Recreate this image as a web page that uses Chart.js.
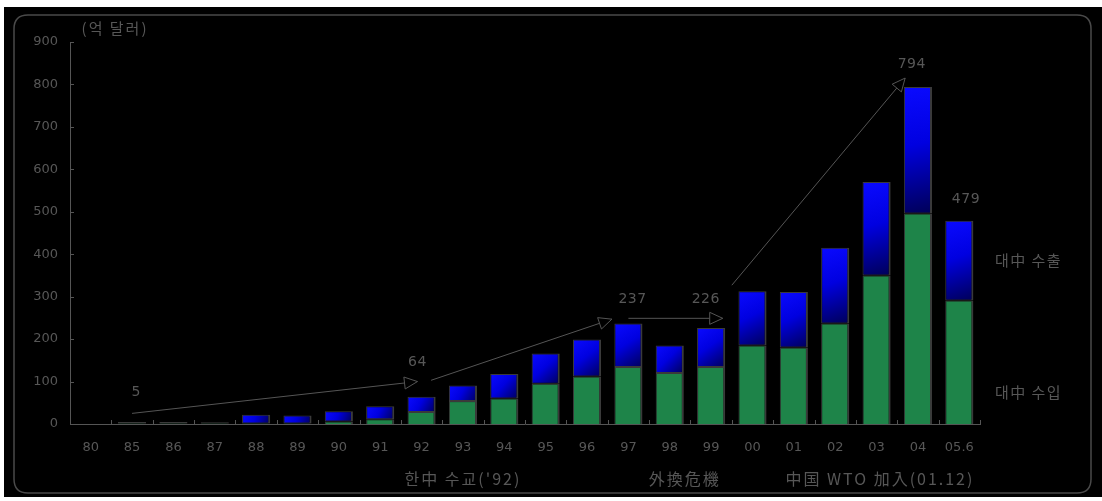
<!DOCTYPE html>
<html>
<head>
<meta charset="utf-8">
<script src="https://cdn.jsdelivr.net/npm/chart.js@4.4.1/dist/chart.umd.min.js"></script>
<style>
  html, body { margin: 0; padding: 0; background: #ffffff; }
  #wrap { width: 1102px; height: 501px; position: relative; }
</style>
</head>
<body>
<div id="wrap"><canvas id="c" width="1102" height="501"></canvas></div>
<script>
// ---- data ----
const categories = ['80','85','86','87','88','89','90','91','92','93','94','95','96','97','98','99','00','01','02','03','04','05.6'];
const lowerGreen = [0,1,1,1,1,1,6,11,28,54,60,95,112,134,120,134,185,180,237,350,496,291];
const upperBlue  = [0,4,4,3,21,19,24,31,36,37,58,71,87,103,65,92,128,131,178,220,298,188];
const yTicks = [0,100,200,300,400,500,600,700,800,900];
const unitLabel = '(억 달러)';
const totalLabels = [
  {text:'5',   idx:1.1,  val:74},
  {text:'64',  idx:7.9,  val:145},
  {text:'237', idx:13.1, val:294},
  {text:'226', idx:14.87,val:294},
  {text:'794', idx:19.85,val:848},
  {text:'479', idx:21.16,val:530}
];
const arrows = [
  {from:[1.0,25],   to:[7.9,100]},
  {from:[8.23,103], to:[12.6,247]},
  {from:[13.0,249], to:[15.28,249]},
  {from:[15.5,327], to:[19.69,815]}
];
const sideLabels = [
  {text:'대中 수출', idx:21.86, val:386},
  {text:'대中 수입', idx:21.86, val:74}
];
const eventLabels = [
  {text:"한中 수교('92)", idx:9.0,  val:-129},
  {text:'外換危機',        idx:14.36,val:-129},
  {text:'中国 WTO 加入(01.12)', idx:19.08, val:-129}
];

const TXT = '#575757';
const NUMFONT = '"DejaVu Sans", sans-serif';
const FONT = '"Noto Sans CJK KR", "DejaVu Sans", sans-serif';

function blueGradient(ctx) {
  const chart = ctx.chart;
  if (ctx.type !== 'data' || !chart.scales || !chart.scales.x || !chart.scales.y) return '#0000dd';
  const xs = chart.scales.x, ys = chart.scales.y;
  const i = ctx.dataIndex;
  const xc = xs.getPixelForValue(i);
  const w = 28;
  const yTop = ys.getPixelForValue(lowerGreen[i] + upperBlue[i]);
  const yBot = ys.getPixelForValue(lowerGreen[i]);
  if (![xc, yTop, yBot].every(Number.isFinite)) return '#0000dd';
  const g = chart.ctx.createLinearGradient(xc - w/2, yTop, xc + w/2, yBot + 1);
  g.addColorStop(0, '#0a0aff');
  g.addColorStop(0.45, '#0000e0');
  g.addColorStop(1, '#000055');
  return g;
}

function drawSpaced(c, text, x, y, align, spacing) {
  if ('letterSpacing' in c) {
    c.letterSpacing = spacing + 'px';
    const w = c.measureText(text).width;
    c.textAlign = 'left';
    let sx = x;
    if (align === 'center') sx = x - w / 2;
    c.fillText(text, sx, y);
    c.letterSpacing = '0px';
  } else {
    c.textAlign = align;
    c.fillText(text, x, y);
  }
}

const decor = {
  id: 'decor',
  beforeDraw(chart) {
    const c = chart.ctx;
    c.save();
    c.fillStyle = '#ffffff';
    c.fillRect(0, 0, chart.width, chart.height);
    c.fillStyle = '#000000';
    c.fillRect(4, 7, chart.width - 4, 490);
    c.strokeStyle = '#4a4a4a';
    c.lineWidth = 1.5;
    const x0 = 14, y0 = 15, x1 = 1091, y1 = 493, r = 14;
    c.beginPath();
    c.moveTo(x0 + r, y0);
    c.lineTo(x1 - r, y0);
    c.quadraticCurveTo(x1, y0, x1, y0 + r);
    c.lineTo(x1, y1 - r);
    c.quadraticCurveTo(x1, y1, x1 - r, y1);
    c.lineTo(x0 + r, y1);
    c.quadraticCurveTo(x0, y1, x0, y1 - r);
    c.lineTo(x0, y0 + r);
    c.quadraticCurveTo(x0, y0, x0 + r, y0);
    c.stroke();
    c.restore();
  },
  afterDraw(chart) {
    const c = chart.ctx;
    const xs = chart.scales.x, ys = chart.scales.y;
    const P = (idx, val) => [xs.getPixelForValue(idx), ys.getPixelForValue(val)];
    c.save();
    c.strokeStyle = '#555';
    c.lineWidth = 1;
    yTicks.forEach(v => {
      const y = Math.round(ys.getPixelForValue(v)) + 0.5;
      c.beginPath(); c.moveTo(xs.left, y); c.lineTo(xs.left + 4, y); c.stroke();
    });
    for (let i = 0; i <= categories.length; i++) {
      const x = Math.round(xs.getPixelForValue(i - 0.5)) + 0.5;
      c.beginPath(); c.moveTo(x, ys.bottom); c.lineTo(x, ys.bottom - 4); c.stroke();
    }
    c.strokeStyle = '#555';
    c.lineWidth = 1;
    arrows.forEach(a => {
      const [xa, ya] = P(a.from[0], a.from[1]);
      const [xb, yb] = P(a.to[0], a.to[1]);
      c.beginPath(); c.moveTo(xa, ya); c.lineTo(xb, yb); c.stroke();
      const ang = Math.atan2(yb - ya, xb - xa);
      const L = 13, Wd = 6;
      const bx = xb - L * Math.cos(ang), by = yb - L * Math.sin(ang);
      c.beginPath();
      c.moveTo(xb, yb);
      c.lineTo(bx + Wd * Math.sin(ang), by - Wd * Math.cos(ang));
      c.lineTo(bx - Wd * Math.sin(ang), by + Wd * Math.cos(ang));
      c.closePath();
      c.fillStyle = '#000';
      c.fill();
      c.stroke();
    });
    c.fillStyle = TXT;
    c.textBaseline = 'middle';
    c.font = '14px ' + NUMFONT;
    totalLabels.forEach(t => { const [x, y] = P(t.idx, t.val); drawSpaced(c, t.text, x, y, 'center', 0.5); });
    c.font = '16px ' + FONT;
    eventLabels.forEach(t => { const [x, y] = P(t.idx, t.val); drawSpaced(c, t.text, x, y, 'center', 2); });
    c.font = '15px ' + FONT;
    sideLabels.forEach(t => { const [x, y] = P(t.idx, t.val); drawSpaced(c, t.text, x, y, 'left', 1.5); });
    const [ux, uy] = P(-0.22, 933);
    drawSpaced(c, unitLabel, ux, uy, 'left', 2);
    c.restore();
  }
};

new Chart(document.getElementById('c'), {
  type: 'bar',
  data: {
    labels: categories,
    datasets: [
      {
        label: 'lower',
        data: lowerGreen,
        backgroundColor: '#1e8449',
        borderColor: '#3a3a3a',
        borderWidth: {top: 1, right: 2, left: 1, bottom: 0},
        borderSkipped: false,
        barPercentage: 0.68,
        categoryPercentage: 1.0
      },
      {
        label: 'upper',
        data: upperBlue,
        backgroundColor: blueGradient,
        borderColor: '#3a3a3a',
        borderWidth: {top: 1, right: 2, left: 1, bottom: 1},
        borderSkipped: false,
        barPercentage: 0.68,
        categoryPercentage: 1.0
      }
    ]
  },
  options: {
    responsive: false,
    animation: false,
    devicePixelRatio: 1,
    layout: { padding: { top: 42, right: 122, bottom: 0, left: 0 } },
    plugins: { legend: { display: false }, tooltip: { enabled: false } },
    scales: {
      x: {
        stacked: true,
        offset: true,
        grid: { display: false, drawTicks: false },
        border: { display: true, color: '#555', width: 1 },
        ticks: { color: TXT, font: { size: 13, family: NUMFONT }, padding: 16, maxRotation: 0, autoSkip: false },
        afterFit(scale) { scale.height = 77; }
      },
      y: {
        stacked: true,
        min: 0, max: 900,
        grid: { display: false, drawTicks: false },
        border: { display: true, color: '#555', width: 1 },
        ticks: { color: TXT, font: { size: 13, family: NUMFONT }, padding: 12, stepSize: 100,
                 callback: (v) => yTicks.includes(v) ? String(v) : '' },
        afterFit(scale) { scale.width = 70; }
      }
    }
  },
  plugins: [decor]
});
</script>
</body>
</html>
